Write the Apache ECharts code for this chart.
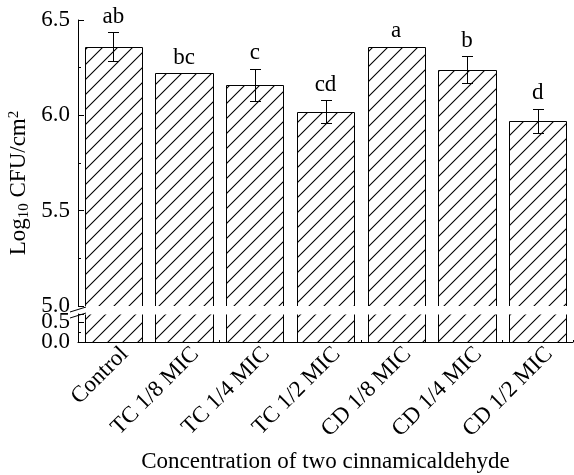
<!DOCTYPE html>
<html><head><meta charset="utf-8">
<script src="https://cdn.jsdelivr.net/npm/echarts@6/dist/echarts.min.js"></script>
<style>html,body{margin:0;padding:0;background:#fff}#c{width:574px;height:475px}</style>
</head><body><div id="c"></div>
<script>
const categories = ['Control', 'TC 1/8 MIC', 'TC 1/4 MIC', 'TC 1/2 MIC', 'CD 1/8 MIC', 'CD 1/4 MIC', 'CD 1/2 MIC'];
const means = [6.36, 6.22, 6.16, 6.02, 6.36, 6.24, 5.97];
const sds = [0.075, 0, 0.085, 0.06, 0, 0.07, 0.065];
const letters = ['ab', 'bc', 'c', 'cd', 'a', 'b', 'd'];
const upperRange = [5.0, 6.5];
const lowerRange = [0.0, 0.7];
const lowerLabelA = [0.0];
const lowerLabelB = [0.5];
const xTitle = 'Concentration of two cinnamicaldehyde';

const FONT = 'Liberation Serif, Times New Roman, serif';
const FS = 23;
const LEFT = 78, RIGHT = 1;
const UP_TOP = 20, UP_H = 286;
const LO_TOP = 314, LO_H = 28;

function hatch() {
  const s = 15;
  const c = document.createElement('canvas');
  c.width = s; c.height = s;
  const g = c.getContext('2d');
  g.fillStyle = '#fff'; g.fillRect(0, 0, s, s);
  g.strokeStyle = '#000'; g.lineWidth = 1.1;
  g.beginPath();
  g.moveTo(-1, s + 1); g.lineTo(s + 1, -1);
  g.moveTo(-1, 1); g.lineTo(1, -1);
  g.moveTo(s - 1, s + 1); g.lineTo(s + 1, s - 1);
  g.stroke();
  return c;
}
const pattern = { image: hatch(), repeat: 'repeat' };

function makeBar(isUpper) {
  return function (params, api) {
    const i = api.value(0), v = api.value(1);
    const cs = params.coordSys;
    const w = api.size([1, 0])[0] * 0.81;
    const p = api.coord([i, v]);
    const cx = p[0];
    let yTop = isUpper ? Math.max(p[1], cs.y) : cs.y;
    const yBot = cs.y + cs.height;
    const x0 = Math.round(cx - w / 2) + 0.5, x1 = Math.round(cx + w / 2) + 0.5;
    yTop = Math.round(yTop) + 0.5;
    const children = [
      { type: 'rect', shape: { x: x0, y: yTop, width: x1 - x0, height: yBot - yTop }, style: { fill: pattern, stroke: null } }
    ];
    if (isUpper) {
      children.push({ type: 'polyline', shape: { points: [[x0, yBot], [x0, yTop], [x1, yTop], [x1, yBot]] }, style: { stroke: '#000', lineWidth: 1, fill: null } });
    } else {
      children.push({ type: 'line', shape: { x1: x0, y1: yTop, x2: x0, y2: yBot }, style: { stroke: '#000', lineWidth: 1 } });
      children.push({ type: 'line', shape: { x1: x1, y1: yTop, x2: x1, y2: yBot }, style: { stroke: '#000', lineWidth: 1 } });
    }
    return { type: 'group', children };
  };
}

function errItem(params, api) {
  const i = api.value(0), v = api.value(1), e = api.value(2);
  const top = api.coord([i, v + e]);
  const bot = api.coord([i, v - e]);
  const cx = Math.round(top[0]) + 0.5;
  const cap = 5.5;
  const children = [];
  if (e > 0) {
    const yt = Math.round(top[1]) + 0.5, yb = Math.round(bot[1]) + 0.5;
    children.push({ type: 'line', shape: { x1: cx, y1: yt, x2: cx, y2: yb }, style: { stroke: '#000', lineWidth: 1 } });
    children.push({ type: 'line', shape: { x1: cx - cap, y1: yt, x2: cx + cap, y2: yt }, style: { stroke: '#000', lineWidth: 1 } });
    children.push({ type: 'line', shape: { x1: cx - cap, y1: yb, x2: cx + cap, y2: yb }, style: { stroke: '#000', lineWidth: 1 } });
  }
  children.push({
    type: 'text',
    style: { text: letters[params.dataIndex], x: top[0], y: top[1] - 4, align: 'center', verticalAlign: 'bottom',
      fontFamily: FONT, fontSize: FS, fill: '#000' }
  });
  return { type: 'group', children };
}

const barData = means.map((m, i) => [i, m, sds[i]]);
const chart = echarts.init(document.getElementById('c'), null, { renderer: 'canvas' });

const labelStyle = { color: '#000', fontFamily: FONT, fontSize: FS };
const yBreakTop = UP_TOP + UP_H, yBreakBot = LO_TOP;
const fmt = v => v.toFixed(1);

chart.setOption({
  backgroundColor: '#fff',
  animation: false,
  grid: [
    { left: LEFT, right: RIGHT, top: UP_TOP, height: UP_H, outerBoundsMode: 'none', containLabel: false },
    { left: LEFT, right: RIGHT, top: LO_TOP, height: LO_H, outerBoundsMode: 'none', containLabel: false }
  ],
  xAxis: [
    { gridIndex: 0, type: 'category', data: categories, show: false },
    { gridIndex: 1, type: 'category', data: categories, position: 'bottom',
      axisLine: { show: true, lineStyle: { color: '#000', width: 1 } },
      axisTick: { show: true, alignWithLabel: true, inside: true, length: 5, lineStyle: { color: '#000' } },
      axisLabel: Object.assign({ rotate: 45, interval: 0, margin: 20, padding: [0, -16, 0, 0] }, labelStyle),
      name: xTitle, nameLocation: 'middle', nameGap: 108,
      nameTextStyle: { color: '#000', fontFamily: FONT, fontSize: FS } },
    { gridIndex: 1, type: 'category', data: categories, position: 'bottom',
      axisLine: { show: false },
      axisTick: { show: true, inside: true, length: 2, lineStyle: { color: '#000' } },
      axisLabel: { show: false } }
  ],
  yAxis: [
    { gridIndex: 0, type: 'value', min: upperRange[0], max: upperRange[1], interval: 0.5,
      axisLine: { show: true, lineStyle: { color: '#000', width: 1 } },
      axisTick: { show: true, inside: true, length: 6, lineStyle: { color: '#000' } },
      minorTick: { show: true, splitNumber: 2, length: 3, lineStyle: { color: '#000' } },
      splitLine: { show: false },
      axisLabel: Object.assign({ margin: 8, showMinLabel: true, showMaxLabel: true, formatter: fmt }, labelStyle) },
    { gridIndex: 1, type: 'value', min: lowerRange[0], max: lowerRange[1], interval: 0.5, position: 'left',
      axisLine: { show: true, lineStyle: { color: '#000', width: 1 } },
      axisTick: { show: true, inside: true, length: 6, lineStyle: { color: '#000' } },
      minorTick: { show: true, splitNumber: 2, length: 3, lineStyle: { color: '#000' } },
      splitLine: { show: false },
      axisLabel: Object.assign({ margin: 8, customValues: lowerLabelA, formatter: fmt }, labelStyle) },
    { gridIndex: 1, type: 'value', min: lowerRange[0], max: lowerRange[1], interval: 0.5, position: 'left', offset: 0,
      axisLine: { show: false }, axisTick: { show: false }, splitLine: { show: false },
      axisLabel: Object.assign({ margin: 8, customValues: lowerLabelB, formatter: fmt }, labelStyle) }
  ],
  series: [
    { type: 'custom', xAxisIndex: 0, yAxisIndex: 0, renderItem: makeBar(true), data: barData, encode: { x: 0, y: 1 }, z: 2 },
    { type: 'custom', xAxisIndex: 1, yAxisIndex: 1, renderItem: makeBar(false), data: barData, encode: { x: 0, y: 1 }, z: 2 },
    { type: 'custom', xAxisIndex: 0, yAxisIndex: 0, renderItem: errItem, data: barData, encode: { x: 0, y: 1 }, z: 3 }
  ],
  graphic: [
    { type: 'text', x: 19, y: (UP_TOP + LO_TOP + LO_H) / 2 + 2, rotation: Math.PI / 2,
      style: { text: 'Log{sub|10} CFU/cm{sup|2}', align: 'center', verticalAlign: 'middle',
        fontFamily: FONT, fontSize: FS, fill: '#000',
        rich: { sub: { fontFamily: FONT, fontSize: 15, verticalAlign: 'bottom', padding: [10, 0, 0, 0], fill: '#000' },
                sup: { fontFamily: FONT, fontSize: 15, verticalAlign: 'top', padding: [0, 0, 10, 0], fill: '#000' } } } },
    { type: 'line', shape: { x1: LEFT - 8, y1: yBreakTop + 6, x2: LEFT + 8, y2: yBreakTop + 1 }, style: { stroke: '#000', lineWidth: 1 }, z: 10 },
    { type: 'line', shape: { x1: LEFT - 8, y1: yBreakBot + 4, x2: LEFT + 8, y2: yBreakBot - 1 }, style: { stroke: '#000', lineWidth: 1 }, z: 10 }
  ]
});
</script></body></html>
